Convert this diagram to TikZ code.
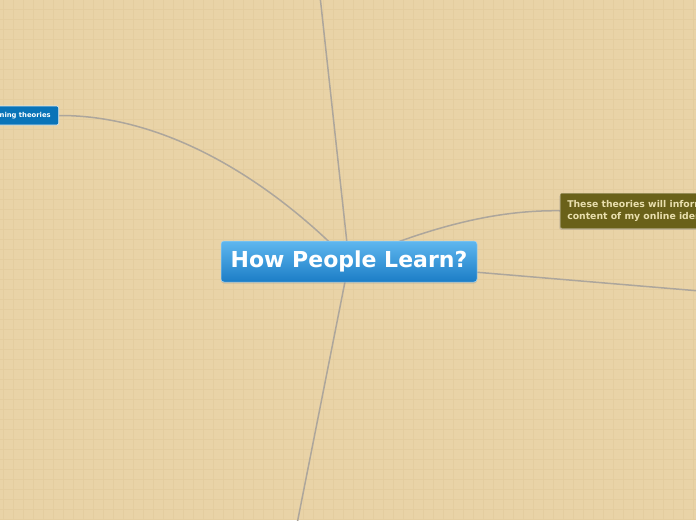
\documentclass[tikz,border=0pt]{standalone}
\usepackage{fontspec}
\setmainfont{DejaVu Sans}
\usetikzlibrary{shadows}
\definecolor{paper}{HTML}{E9D3A7}
\definecolor{paperline}{HTML}{E4CD9F}
\definecolor{linkgray}{HTML}{ADA69C}
\definecolor{hubtop}{HTML}{5FB7EF}
\definecolor{hubbottom}{HTML}{1B7DC6}
\definecolor{topicblue}{HTML}{0A74B8}
\definecolor{olive}{HTML}{6A6119}
\definecolor{olivetext}{HTML}{E9DFAE}
\pgfdeclarelayer{bg}
\pgfdeclarelayer{links}
\pgfsetlayers{bg,links,main}
\tikzset{
  hub/.style={rectangle,rounded corners=3pt,top color=hubtop,bottom color=hubbottom,
    draw=hubtop!60!white,line width=0.5pt,text=white,font=\bfseries\fontsize{22}{26}\selectfont,
    minimum width=256pt,minimum height=41pt,inner sep=0pt,
    drop shadow={shadow xshift=0pt,shadow yshift=-1.5pt,opacity=0.25}},
  topic/.style={rectangle,rounded corners=2pt,fill=topicblue,draw=white!85!topicblue,line width=0.6pt,
    text=white,font=\bfseries\fontsize{6.8}{8}\selectfont,minimum height=19pt,inner xsep=8pt,inner ysep=0pt},
  note/.style={rectangle,rounded corners=2pt,fill=olive,draw=olive!70!white,line width=0.5pt,
    text=olivetext,font=\bfseries\fontsize{9.3}{12}\selectfont,align=left,
    minimum height=35pt,inner xsep=7pt,inner ysep=0pt,
    drop shadow={shadow xshift=-1pt,shadow yshift=-1.5pt,opacity=0.3}},
  link/.style={draw=linkgray,line width=1.5pt},
  gridrule/.style={draw=paperline,line width=0.6pt}
}
\begin{document}
\begin{tikzpicture}[x=1pt,y=-1pt]
  \useasboundingbox (0,0) rectangle (696,520);
  \clip (0,0) rectangle (696,520);
  %
  \begin{pgfonlayer}{bg}
    \fill[paper] (0,0) rectangle (696,520);
    \foreach \gx in {3,13,...,693} \draw[gridrule] (\gx,0) -- (\gx,520);
    \foreach \gy in {9,19,...,519} \draw[gridrule] (0,\gy) -- (696,\gy);
  \end{pgfonlayer}
  %
  \node[hub] (hub) at (349,261.5) {How People Learn?};
  \node[topic,anchor=east] (theories) at (59,115.5) {Learning theories};
  \node[note,anchor=north west] (inform) at (560,193) {These theories will inform the\\content of my online identity};
  \coordinate (up) at (320,-4);
  \coordinate (down) at (297,524);
  \coordinate (east) at (700,291);
  %
  \begin{pgfonlayer}{links}
    \draw[link] (hub.center) -- (up);
    \draw[link] (hub.center) -- (down);
    \draw[link] (hub.center) -- (east);
    \draw[link] (hub.center) .. controls (275,185) and (170,115) .. (theories.east);
    \draw[link] (hub.center) .. controls (440,222) and (505,210) .. (inform.west);
  \end{pgfonlayer}
\end{tikzpicture}
\end{document}
